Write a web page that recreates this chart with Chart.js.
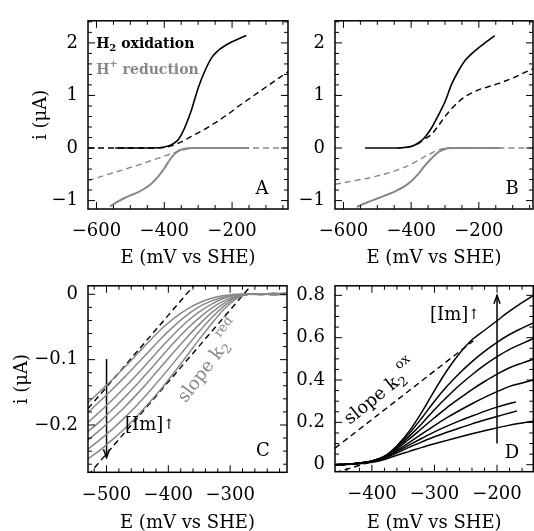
<!DOCTYPE html>
<html>
<head>
<meta charset="utf-8">
<script src="https://cdn.jsdelivr.net/npm/chart.js@4.4.0/dist/chart.umd.min.js"></script>
<style>
  html, body { margin: 0; padding: 0; background: #fff; overflow: hidden; }
  #wrap { position: relative; width: 534px; height: 531px; overflow: hidden; }
  canvas { position: absolute; }
</style>
</head>
<body>
<div id="wrap">
  <canvas id="panelA" width="292" height="270" style="left:0;top:0;width:292px;height:270px"></canvas>
  <canvas id="panelB" width="287" height="270" style="left:247px;top:0;width:287px;height:270px"></canvas>
  <canvas id="panelC" width="292" height="270" style="left:0;top:265px;width:292px;height:270px"></canvas>
  <canvas id="panelD" width="287" height="270" style="left:247px;top:265px;width:287px;height:270px"></canvas>
</div>
<script>
// ---------- panel A : H2 oxidation / H+ reduction ----------
const aXTicks = [-600, -400, -200];
const aYTicks = [-1, 0, 1, 2];

const aOxE = [-545, -500, -450, -420, -400, -380, -360, -350, -340, -320, -300, -280, -260, -240, -220, -200, -180, -158];
const aOxI = [0, 0, 0, 0.005, 0.02, 0.06, 0.15, 0.25, 0.38, 0.72, 1.14, 1.47, 1.72, 1.86, 1.95, 2.02, 2.08, 2.14];

const aOxDashE = [-625, -420, -400, -380, -360, -340, -320, -300, -280, -260, -240, -220, -200, -180, -160, -140, -120, -100, -80, -60, -35];
const aOxDashI = [0, 0, 0.01, 0.04, 0.09, 0.15, 0.22, 0.29, 0.36, 0.44, 0.52, 0.61, 0.70, 0.80, 0.89, 0.98, 1.07, 1.16, 1.25, 1.34, 1.45];

const aRedE = [-560, -540, -520, -500, -480, -460, -440, -420, -400, -380, -360, -340, -320, -300, -150];
const aRedI = [-1.11, -1.03, -0.96, -0.90, -0.85, -0.78, -0.69, -0.56, -0.39, -0.19, -0.06, -0.015, 0, 0, 0];

const aRedDashE = [-625, -575, -525, -475, -425, -375, -350, -325, -300, -35];
const aRedDashI = [-0.62, -0.52, -0.42, -0.32, -0.21, -0.10, -0.05, -0.01, 0, 0];

// ---------- panel B ----------
const bOxE = [-536, -500, -450, -420, -400, -380, -360, -340, -320, -300, -280, -260, -240, -220, -200, -180, -153];
const bOxI = [0, 0, 0, 0.01, 0.03, 0.09, 0.20, 0.38, 0.62, 0.88, 1.22, 1.47, 1.67, 1.80, 1.91, 2.01, 2.14];

const bOxDashE = [-440, -400, -380, -360, -340, -320, -300, -280, -260, -240, -220, -200, -180, -160, -140, -120, -100, -80, -60, -40];
const bOxDashI = [0, 0.03, 0.08, 0.17, 0.26, 0.42, 0.60, 0.75, 0.88, 0.98, 1.05, 1.11, 1.15, 1.19, 1.23, 1.28, 1.33, 1.39, 1.45, 1.51];

const bRedE = [-561, -540, -520, -500, -480, -460, -440, -420, -400, -380, -360, -340, -320, -300, -290, -137];
const bRedI = [-1.12, -1.06, -1.01, -0.96, -0.91, -0.86, -0.80, -0.73, -0.63, -0.50, -0.34, -0.20, -0.08, -0.02, 0, 0];

const bRedDashE = [-625, -600, -575, -550, -525, -500, -475, -450, -425, -400, -375, -350, -325, -300, -40];
const bRedDashI = [-0.69, -0.66, -0.63, -0.60, -0.57, -0.53, -0.49, -0.44, -0.38, -0.31, -0.22, -0.13, -0.05, -0.01, 0];

// ---------- panel C : reduction, increasing [Im] ----------
const cXTicks = [-500, -400, -300];
const cYTicks = [-0.2, -0.1, 0];
const cE = [-530, -510, -490, -470, -450, -430, -410, -390, -370, -350, -330, -310, -290, -270, -250, -230, -210];
const cI1 = [-0.166, -0.148, -0.130, -0.111, -0.091, -0.071, -0.052, -0.036, -0.023, -0.013, -0.006, -0.002, 0, 0.001, 0, 0.002, 0];
const cI2 = [-0.181, -0.163, -0.145, -0.126, -0.106, -0.086, -0.066, -0.048, -0.032, -0.019, -0.010, -0.004, -0.001, 0, 0.001, 0, 0.002];
const cI3 = [-0.196, -0.179, -0.161, -0.142, -0.122, -0.101, -0.080, -0.060, -0.042, -0.027, -0.015, -0.006, -0.001, 0, -0.001, 0.001, 0];
const cI4 = [-0.210, -0.194, -0.176, -0.157, -0.137, -0.116, -0.094, -0.073, -0.053, -0.036, -0.021, -0.010, -0.003, 0, 0.001, -0.001, 0.001];
const cI5 = [-0.223, -0.207, -0.190, -0.172, -0.152, -0.131, -0.109, -0.087, -0.066, -0.046, -0.028, -0.014, -0.004, 0, 0, 0.001, -0.001];
const cI6 = [-0.237, -0.222, -0.206, -0.188, -0.169, -0.148, -0.126, -0.103, -0.080, -0.057, -0.036, -0.018, -0.005, 0, 0.001, 0, 0.002];
const cI7 = [-0.252, -0.238, -0.222, -0.205, -0.186, -0.165, -0.143, -0.119, -0.094, -0.069, -0.045, -0.023, -0.007, 0, 0.001, -0.001, 0.001];
const cSlope1E = [-530, -350];
const cSlope1I = [-0.175, 0.023];
const cSlope2E = [-530, -260];
const cSlope2I = [-0.277, 0.020];
const cArrowE = [-500, -500];
const cArrowI = [-0.099, -0.250];

// ---------- panel D : oxidation, increasing [Im] ----------
const dXTicks = [-400, -300, -200];
const dYTicks = [0, 0.2, 0.4, 0.6, 0.8];
const dE = [-459, -440, -420, -400, -380, -360, -340, -320, -300, -280, -260, -240, -220, -200, -180, -160, -142];
const dEshort6 = [-459, -440, -420, -400, -380, -360, -340, -320, -300, -280, -260, -240, -220, -200, -180, -170];
const dEshort7 = [-459, -440, -420, -400, -380, -360, -340, -320, -300, -280, -260, -240, -220, -200, -180, -168];
const dI1 = [0, 0.002, 0.008, 0.018, 0.040, 0.090, 0.160, 0.250, 0.350, 0.445, 0.525, 0.590, 0.635, 0.680, 0.725, 0.765, 0.800];
const dI2 = [0, 0.002, 0.008, 0.018, 0.039, 0.086, 0.148, 0.222, 0.300, 0.370, 0.432, 0.487, 0.535, 0.578, 0.615, 0.645, 0.670];
const dI3 = [0, 0.002, 0.008, 0.018, 0.038, 0.080, 0.135, 0.195, 0.260, 0.320, 0.375, 0.425, 0.470, 0.510, 0.545, 0.572, 0.596];
const dI4 = [0, 0.002, 0.008, 0.017, 0.036, 0.075, 0.122, 0.172, 0.222, 0.270, 0.313, 0.355, 0.393, 0.428, 0.458, 0.480, 0.498];
const dI5 = [0, 0.002, 0.007, 0.016, 0.034, 0.068, 0.106, 0.146, 0.185, 0.222, 0.256, 0.288, 0.318, 0.345, 0.370, 0.386, 0.400];
const dI6 = [0, 0.002, 0.007, 0.015, 0.032, 0.062, 0.094, 0.125, 0.155, 0.182, 0.207, 0.230, 0.252, 0.272, 0.289, 0.296];
const dI7 = [0, 0.002, 0.006, 0.014, 0.030, 0.056, 0.083, 0.108, 0.132, 0.153, 0.173, 0.193, 0.211, 0.228, 0.244, 0.254];
const dI8 = [0, 0.001, 0.004, 0.011, 0.025, 0.045, 0.063, 0.082, 0.099, 0.115, 0.131, 0.146, 0.160, 0.174, 0.187, 0.197, 0.205];
const dSlopeE = [-459, -238];
const dSlopeI = [0.078, 0.585];
const dSlope2E = [-459, -405];
const dSlope2I = [-0.038, 0.010];
const dArrowE = [-200, -200];
const dArrowI = [0.10, 0.80];

// ---------- helpers ----------
const FAM = '"DejaVu Serif", serif';
const GRAY = '#888';
const pts = (xs, ys) => xs.map((x, i) => ({ x, y: ys[i] }));
const fmt = v => (Math.round(v * 1000) / 1000).toString().replace('-', '\u2212');

function solid(xs, ys, color, w) {
    return { data: pts(xs, ys), borderColor: color, borderWidth: w || 1.6, pointRadius: 0, fill: false, cubicInterpolationMode: 'monotone' };
}
function dashed(xs, ys, color) {
    return { data: pts(xs, ys), borderColor: color, borderWidth: 1.4, borderDash: [6, 4], pointRadius: 0, fill: false, cubicInterpolationMode: 'monotone' };
}
function arrow(xs, ys) {
    return { data: pts(xs, ys), borderColor: '#000', borderWidth: 1.5, pointRadius: 0, fill: false, arrowHead: true };
}

function drawRich(ctx, px, py, t) {
    const fontOf = s => (t.weight || 'normal') + ' ' + Math.round(t.size * s) + 'px ' + FAM;
    const parts = t.parts.map(([str, s = 1, dy = 0]) => {
        ctx.font = fontOf(s);
        return { str, s, dy, w: ctx.measureText(str).width };
    });
    const total = parts.reduce((acc, p) => acc + p.w, 0);
    ctx.save();
    ctx.translate(px, py);
    ctx.rotate((t.rot || 0) * Math.PI / 180);
    ctx.fillStyle = t.color || '#000';
    ctx.textBaseline = 'middle';
    ctx.textAlign = 'left';
    let cx = t.align === 'center' ? -total / 2 : 0;
    parts.forEach(p => {
        ctx.font = fontOf(p.s);
        ctx.fillText(p.str, cx, p.dy * t.size);
        cx += p.w;
    });
    ctx.restore();
}

// frame with inward ticks on all sides, arrow heads, text labels
const panelDeco = {
    id: 'panelDeco',
    afterDatasetsDraw(chart, args, o) {
        const { ctx, chartArea: a, scales: { x, y } } = chart;
        ctx.save();

        chart.data.datasets.forEach((ds, i) => {
            if (!ds.arrowHead) return;
            const el = chart.getDatasetMeta(i).data;
            const p0 = el[el.length - 2], p1 = el[el.length - 1];
            const ang = Math.atan2(p1.y - p0.y, p1.x - p0.x);
            ctx.strokeStyle = '#000';
            ctx.lineWidth = 1.5;
            ctx.beginPath();
            ctx.moveTo(p1.x - 9 * Math.cos(ang - 0.35), p1.y - 9 * Math.sin(ang - 0.35));
            ctx.lineTo(p1.x, p1.y);
            ctx.lineTo(p1.x - 9 * Math.cos(ang + 0.35), p1.y - 9 * Math.sin(ang + 0.35));
            ctx.stroke();
        });

        ctx.strokeStyle = '#000';
        ctx.lineWidth = 1.5;
        ctx.strokeRect(a.left, a.top, a.right - a.left, a.bottom - a.top);

        ctx.lineWidth = 1;
        const ticks = (scale, minor, major, horiz) => {
            const n0 = Math.ceil(scale.min / minor - 1e-6);
            const n1 = Math.floor(scale.max / minor + 1e-6);
            for (let n = n0; n <= n1; n++) {
                const v = n * minor;
                const r = v / major;
                const len = Math.abs(r - Math.round(r)) < 1e-6 ? 7 : 4;
                const p = scale.getPixelForValue(v);
                ctx.beginPath();
                if (horiz) {
                    ctx.moveTo(p, a.bottom); ctx.lineTo(p, a.bottom - len);
                    ctx.moveTo(p, a.top); ctx.lineTo(p, a.top + len);
                } else {
                    ctx.moveTo(a.left, p); ctx.lineTo(a.left + len, p);
                    ctx.moveTo(a.right, p); ctx.lineTo(a.right - len, p);
                }
                ctx.stroke();
            }
        };
        ticks(x, o.xMinor, o.xMajor, true);
        ticks(y, o.yMinor, o.yMajor, false);

        (o.texts || []).forEach(t => drawRich(ctx, x.getPixelForValue(t.x), y.getPixelForValue(t.y), t));
        ctx.restore();
    }
};

function makePanel(id, p) {
    const canvas = document.getElementById(id);
    const W = canvas.width, H = canvas.height;
    return new Chart(canvas.getContext('2d'), {
        type: 'line',
        data: { datasets: p.datasets },
        plugins: [panelDeco],
        options: {
            responsive: false,
            animation: false,
            events: [],
            layout: { padding: { left: 0, top: p.area.top, right: W - p.area.right, bottom: 0 } },
            plugins: {
                legend: { display: false },
                tooltip: { enabled: false },
                panelDeco: { xMinor: p.xMinor, xMajor: p.xMajor, yMinor: p.yMinor, yMajor: p.yMajor, texts: p.texts }
            },
            scales: {
                x: {
                    type: 'linear',
                    min: p.xMin, max: p.xMax,
                    grid: { display: false, drawTicks: false },
                    border: { display: false },
                    afterFit: s => { s.height = H - p.area.bottom; },
                    afterBuildTicks: s => { s.ticks = p.xTicks.map(v => ({ value: v })); },
                    ticks: { color: '#000', padding: 12, maxRotation: 0, font: { family: FAM, size: 18 }, callback: v => fmt(v) },
                    title: { display: true, text: 'E (mV vs SHE)', color: '#000', padding: { top: 0, bottom: 1 }, font: { family: FAM, size: 18 } }
                },
                y: {
                    type: 'linear',
                    min: p.yMin, max: p.yMax,
                    grid: { display: false, drawTicks: false },
                    border: { display: false },
                    afterFit: s => { s.width = p.area.left; },
                    afterBuildTicks: s => { s.ticks = p.yTicks.map(v => ({ value: v })); },
                    ticks: { color: '#000', padding: 10, font: { family: FAM, size: 18 }, callback: v => fmt(v) },
                    title: { display: !!p.yTitle, text: p.yTitle || '', color: '#000', padding: { top: p.yTitlePad || 0, bottom: 0 }, font: { family: FAM, size: 18 } }
                }
            }
        }
    });
}

const legendTexts = [
    { x: -601, y: 1.97, size: 14, weight: 'bold', color: '#000', parts: [['H'], ['2', 0.7, 0.3], [' oxidation']] },
    { x: -601, y: 1.485, size: 14, weight: 'bold', color: GRAY, parts: [['H'], ['+', 0.7, -0.4], [' reduction']] }
];

makePanel('panelA', {
    area: { left: 88, top: 12, right: 288, bottom: 209 },
    xMin: -625, xMax: -35, yMin: -1.16, yMax: 2.42,
    xTicks: aXTicks, yTicks: aYTicks,
    xMinor: 50, xMajor: 200, yMinor: 0.2, yMajor: 1,
    yTitle: 'i (\u03bcA)', yTitlePad: 31,
    datasets: [
        dashed(aOxDashE, aOxDashI, '#000'),
        dashed(aRedDashE, aRedDashI, GRAY),
        solid(aRedE, aRedI, GRAY, 2),
        solid(aOxE, aOxI, '#000')
    ],
    texts: legendTexts.concat([{ x: -112, y: -0.79, size: 18, align: 'center', parts: [['A']] }])
});

makePanel('panelB', {
    area: { left: 88, top: 12, right: 286, bottom: 209 },
    xMin: -625, xMax: -40, yMin: -1.16, yMax: 2.42,
    xTicks: aXTicks, yTicks: aYTicks,
    xMinor: 50, xMajor: 200, yMinor: 0.2, yMajor: 1,
    datasets: [
        dashed(bOxDashE, bOxDashI, '#000'),
        dashed(bRedDashE, bRedDashI, GRAY),
        solid(bRedE, bRedI, GRAY, 2),
        solid(bOxE, bOxI, '#000')
    ],
    texts: [{ x: -102, y: -0.79, size: 18, align: 'center', parts: [['B']] }]
});

makePanel('panelC', {
    area: { left: 88, top: 11.7, right: 287, bottom: 207.3 },
    xMin: -530, xMax: -208, yMin: -0.2724, yMax: 0.013,
    xTicks: cXTicks, yTicks: cYTicks,
    xMinor: 20, xMajor: 100, yMinor: 0.02, yMajor: 0.1,
    yTitle: 'i (\u03bcA)', yTitlePad: 12,
    datasets: [
        solid(cE, cI1, GRAY, 1.5), solid(cE, cI2, GRAY, 1.5), solid(cE, cI3, GRAY, 1.5),
        solid(cE, cI4, GRAY, 1.5), solid(cE, cI5, GRAY, 1.5), solid(cE, cI6, GRAY, 1.5),
        solid(cE, cI7, GRAY, 1.5),
        dashed(cSlope1E, cSlope1I, '#000'),
        dashed(cSlope2E, cSlope2I, '#000'),
        arrow(cArrowE, cArrowI)
    ],
    texts: [
        { x: -378, y: -0.163, size: 18, rot: -53, color: GRAY, parts: [['slope k'], ['2', 0.7, 0.3], ['red', 0.7, -0.6]] },
        { x: -470, y: -0.200, size: 18, parts: [['[Im]'], ['\u2191', 0.8, 0]] },
        { x: -247, y: -0.240, size: 18, align: 'center', parts: [['C']] }
    ]
});

makePanel('panelD', {
    area: { left: 88, top: 11.7, right: 286.3, bottom: 206.7 },
    xMin: -459, xMax: -142, yMin: -0.033, yMax: 0.845,
    xTicks: dXTicks, yTicks: dYTicks,
    xMinor: 20, xMajor: 100, yMinor: 0.05, yMajor: 0.2,
    datasets: [
        solid(dE, dI1, '#000', 1.5), solid(dE, dI2, '#000', 1.5), solid(dE, dI3, '#000', 1.5),
        solid(dE, dI4, '#000', 1.5), solid(dE, dI5, '#000', 1.5),
        solid(dEshort6, dI6, '#000', 1.5), solid(dEshort7, dI7, '#000', 1.5),
        solid(dE, dI8, '#000', 1.5),
        dashed(dSlopeE, dSlopeI, '#000'),
        dashed(dSlope2E, dSlope2I, '#000'),
        arrow(dArrowE, dArrowI)
    ],
    texts: [
        { x: -440, y: 0.205, size: 18, rot: -39, parts: [['slope k'], ['2', 0.7, 0.3], ['ox', 0.7, -0.6]] },
        { x: -307, y: 0.704, size: 18, parts: [['[Im]'], ['\u2191', 0.8, 0]] },
        { x: -176, y: 0.055, size: 18, align: 'center', parts: [['D']] }
    ]
});
</script>
</body>
</html>
